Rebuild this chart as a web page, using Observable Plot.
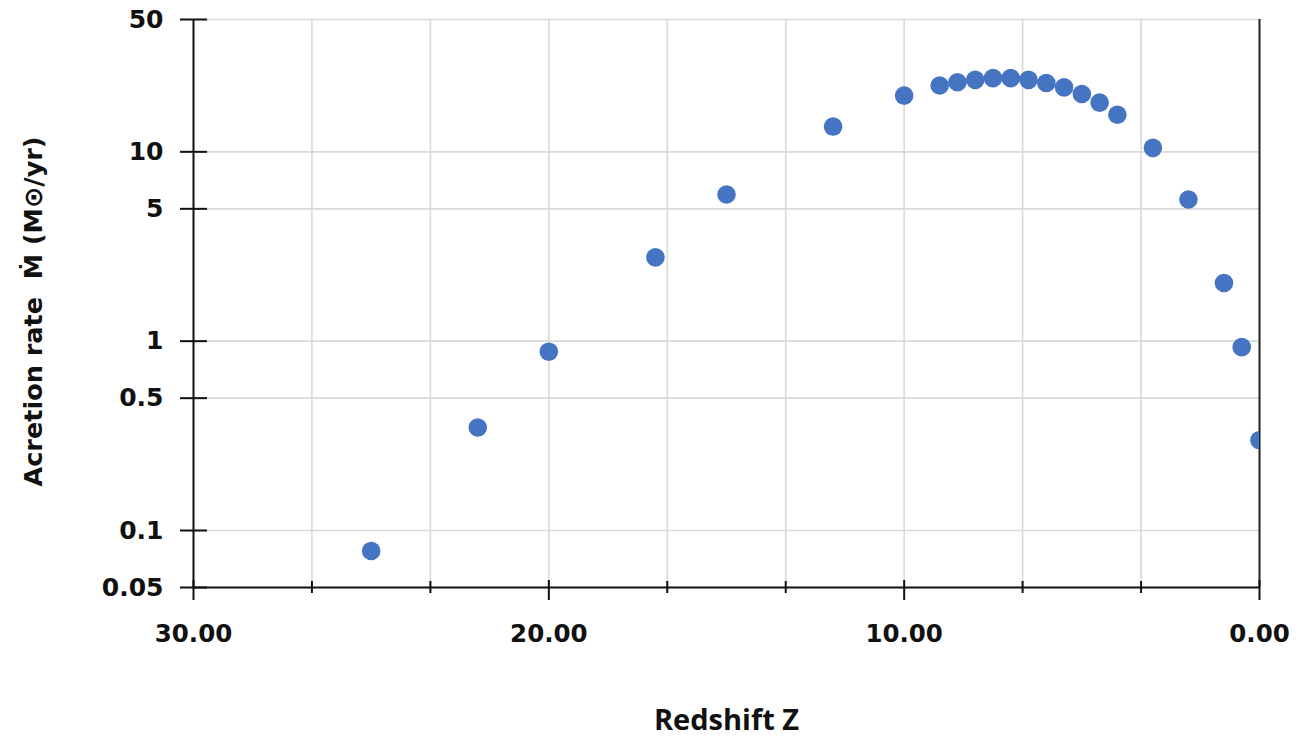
<!DOCTYPE html>
<html>
<head>
<meta charset="utf-8">
<script src="https://cdn.jsdelivr.net/npm/d3@7"></script>
<script src="https://cdn.jsdelivr.net/npm/@observablehq/plot@0.6"></script>
<style>
  html, body { margin: 0; padding: 0; background: #fff; }
</style>
</head>
<body>
<div id="chart"></div>
<script>
// Data
const redshift = [25, 22, 20, 17, 15, 12, 10, 9, 8.5, 8, 7.5, 7, 6.5, 6, 5.5, 5, 4.5, 4, 3, 2, 1, 0.5, 0];
const rate     = [0.078, 0.35, 0.88, 2.77, 5.95, 13.6, 19.8, 22.4, 23.3, 24.0, 24.5, 24.5, 24.0, 23.1, 21.9, 20.2, 18.2, 15.7, 10.5, 5.6, 2.03, 0.93, 0.30];

// Axes / ticks
const xMajorTicks = [30, 20, 10, 0];
const xMinorTicks = [26.667, 23.333, 16.667, 13.333, 6.667, 3.333];
const xGridLines  = [26.667, 23.333, 20, 16.667, 13.333, 10, 6.667, 3.333];
const yTicks      = [0.05, 0.1, 0.5, 1, 5, 10, 50];
const yTickLabels = ["0.05", "0.1", "0.5", "1", "5", "10", "50"];
const yGridLines  = [0.1, 0.5, 1, 5, 10, 50];
const xDomain = [30, 0];
const yDomain = [0.05, 50];
const xTitle = "Redshift Z";
const yTitle = "Acretion rate  \u1E40 (M\u2299/yr)";

const data = redshift.map((z, i) => ({z, rate: rate[i]}));
const yLabelData = yTicks.map((v, i) => ({v, label: yTickLabels[i]}));

const fontMain = "'DejaVu Sans', Verdana, sans-serif";

const chart = Plot.plot({
  width: 1301,
  height: 737,
  marginLeft: 193,
  marginRight: 42,
  marginTop: 19,
  marginBottom: 150,
  style: {fontFamily: fontMain, background: "#fff", color: "#000"},
  x: {type: "linear", domain: xDomain},
  y: {type: "log", domain: yDomain},
  marks: [
    Plot.gridX(xGridLines, {stroke: "#d9d9d9", strokeOpacity: 1, strokeWidth: 1.6}),
    Plot.gridY(yGridLines, {stroke: "#d9d9d9", strokeOpacity: 1, strokeWidth: 1.6}),
    // axis lines
    Plot.ruleX([xDomain[0]], {stroke: "#111", strokeWidth: 2}),
    Plot.ruleX([xDomain[1]], {stroke: "#222", strokeWidth: 2}),
    Plot.ruleY([yDomain[0]], {stroke: "#111", strokeWidth: 2}),
    // data points
    Plot.dot(data, {x: "z", y: "rate", r: 9.3, fill: "#4574c2", stroke: "none", clip: true}),
    // y ticks crossing axis
    Plot.axisY({ticks: yTicks, tickSize: 27, dx: 14, text: null, label: null, stroke: "#111", strokeWidth: 2}),
    // y labels
    Plot.text(yLabelData, {y: "v", text: "label", frameAnchor: "left", textAnchor: "end", dx: -30,
      fontSize: 25, fontWeight: 700, fill: "#111", fontFamily: fontMain}),
    // x major ticks crossing axis
    Plot.axisX({ticks: xMajorTicks, tickSize: 20, dy: -7, text: null, label: null, stroke: "#111", strokeWidth: 2}),
    // x minor ticks
    Plot.axisX({ticks: xMinorTicks, tickSize: 12, dy: -6, text: null, label: null, stroke: "#111", strokeWidth: 2}),
    // x labels
    Plot.axisX({ticks: xMajorTicks, tickSize: 0, tickPadding: 37, tickFormat: d => d.toFixed(2), label: null,
      fontSize: 24.5, fontWeight: 700, fill: "#111"}),
    // axis titles
    Plot.text([xTitle], {frameAnchor: "bottom", dy: 133, lineAnchor: "middle", fontSize: 29, fontWeight: 700,
      fontFamily: "'Open Sans', sans-serif", fill: "#111"}),
    Plot.text([yTitle], {frameAnchor: "left", rotate: -90, dx: -160, dy: 8, textAnchor: "middle", lineAnchor: "middle",
      fontSize: 25.5, fontWeight: 700, fill: "#111", fontFamily: fontMain})
  ]
});

document.getElementById("chart").appendChild(chart);
</script>
</body>
</html>
